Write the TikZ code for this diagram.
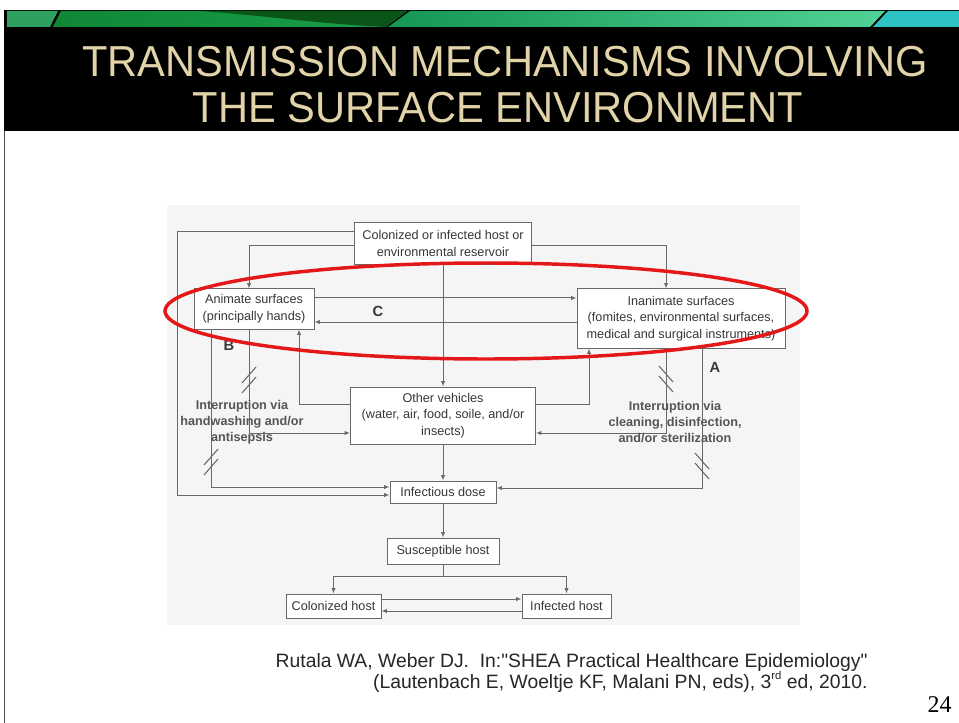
\documentclass[tikz,border=0pt]{standalone}
\usepackage{fontspec}
\setmainfont{Liberation Sans}
\newfontfamily\titlefont[FakeStretch=0.96]{Liberation Sans}
\newfontfamily\citefont{Liberation Sans}
\newfontfamily\pagefont{Liberation Serif}
\usetikzlibrary{arrows.meta}

\definecolor{boxgray}{RGB}{105,105,105}
\definecolor{txtgray}{RGB}{55,55,55}
\definecolor{notegray}{RGB}{85,85,85}
\definecolor{bggray}{RGB}{245,245,245}
\definecolor{titlegold}{RGB}{226,212,168}
\definecolor{ringred}{RGB}{228,24,24}
\definecolor{stripa}{RGB}{46,160,95}
\definecolor{stripb}{RGB}{15,135,55}
\definecolor{stripbb}{RGB}{25,160,75}
\definecolor{stripdark}{RGB}{12,85,25}
\definecolor{stripc}{RGB}{20,150,85}
\definecolor{stripcc}{RGB}{80,210,150}
\definecolor{stripd}{RGB}{45,195,195}

\newcommand{\diagfont}{\fontsize{9.5}{12.5}\selectfont}
\newcommand{\ordsup}[1]{\raisebox{0.42em}{\fontsize{8.5}{9}\selectfont #1}}

\tikzset{every picture/.style={line width=0.75pt}}
\tikzset{
  box/.style={draw=boxgray, fill=white, inner sep=0pt, align=center, text=txtgray, font=\diagfont},
  link/.style={draw=boxgray, -{Latex[length=4pt,width=3.2pt]}},
  cut/.style={draw=boxgray, line width=0.8pt},
  letter/.style={text=txtgray, font=\bfseries\fontsize{11}{13}\selectfont},
  note/.style={text=notegray, align=center, font=\bfseries\fontsize{9.5}{12}\selectfont},
}

\begin{document}
\begin{tikzpicture}[x=0.75pt,y=0.75pt,yscale=-1]
\useasboundingbox (0,0) rectangle (959,723);

%Shape: Rectangle [slide and title band]
\fill[white] (0,0) rectangle (959,723);
\fill[black] (4,10) rectangle (959,131);
\draw[black!70, line width=0.9pt] (4.5,131) -- (4.5,723);
%Shape: Polygon [green strip]
\fill[stripa] (7,11) -- (58,11) -- (50,27) -- (7,27) -- cycle;
\shade[left color=stripb, right color=stripbb] (61,11) -- (407,11) -- (385,27) -- (53,27) -- cycle;
\fill[stripdark] (200,11) .. controls (260,15) and (320,24) .. (386,27) -- (407,11) -- cycle;
\shade[left color=stripc, right color=stripcc] (410,11) -- (885,11) -- (870,27) -- (388,27) -- cycle;
\fill[stripd] (888,11) -- (959,11) -- (959,27) -- (873,27) -- cycle;

% Text Node
\node[anchor=base, text=titlegold, font=\titlefont\fontsize{32.5}{36}\selectfont] (title1) at (505,77) {TRANSMISSION MECHANISMS INVOLVING};
% Text Node
\node[anchor=base, text=titlegold, font=\titlefont\fontsize{32.5}{36}\selectfont] (title2) at (498,123) {THE SURFACE ENVIRONMENT};

%Shape: Rectangle [scanned figure]
\fill[bggray] (167,205) rectangle (800,625);

%Shape: Rectangle
\node[box, minimum width=132.75pt, minimum height=31.5pt] (reservoir) at (443,243.5) {Colonized or infected host or\\environmental reservoir};
\node[box, minimum width=90pt, minimum height=30pt] (animate) at (254,309) {Animate surfaces\\(principally hands)};
\node[box, minimum width=156pt, minimum height=44.25pt] (inanimate) at (681,318.5) {Inanimate surfaces\\(fomites, environmental surfaces,\\medical and surgical instruments)};
\node[box, minimum width=138.75pt, minimum height=42.75pt] (vehicles) at (443,415.5) {Other vehicles\\(water, air, food, soile, and/or\\insects)};
\node[box, minimum width=79.5pt, minimum height=16.5pt] (dose) at (443,492) {Infectious dose};
\node[box, minimum width=84pt, minimum height=19.5pt] (suscept) at (443,551) {Susceptible host};
\node[box, minimum width=71.25pt, minimum height=18pt] (colonized) at (333.5,606) {Colonized host};
\node[box, minimum width=66.75pt, minimum height=18pt] (infected) at (566.5,606) {Infected host};

%Straight Lines [reservoir out]
\draw[link] (reservoir.west |- 0,232) -| (177,495) -- (dose.west |- 0,495);
\draw[link] (reservoir.west |- 0,246) -| (animate.north -| 249,0);
\draw[link] (reservoir.east |- 0,246) -| (inanimate.north -| 666,0);
\draw[link] (reservoir.south) -- (vehicles.north);
%Straight Lines [surfaces]
\draw[link] (animate.east |- 0,298) -- (inanimate.west |- 0,298);
\draw[link] (inanimate.west |- 0,322) -- (animate.east |- 0,322);
\draw[link] (animate.south -| 211,0) |- (dose.west |- 0,487);
\draw[link] (animate.south -| 249,0) |- (vehicles.west |- 0,433);
\draw[link] (vehicles.west |- 0,404) -| (animate.south -| 299,0);
\draw[link] (vehicles.east |- 0,404) -| (inanimate.south -| 589,0);
\draw[link] (inanimate.south -| 666,0) |- (vehicles.east |- 0,433);
\draw[link] (inanimate.south -| 702,0) |- (dose.east |- 0,488);
%Straight Lines [down to hosts]
\draw[link] (vehicles.south) -- (dose.north);
\draw[link] (dose.south) -- (suscept.north);
\draw[link] (suscept.south) -- (443,576) -| (colonized.north);
\draw[link] (443,576) -| (infected.north);
\draw[link] (colonized.east |- 0,599) -- (infected.west |- 0,599);
\draw[link] (infected.west |- 0,611) -- (colonized.east |- 0,611);

%Straight Lines [interruption marks]
\foreach \cx/\cy/\s in {249/380/1, 211/462/1, 666/379/-1, 702/466/-1}
  \foreach \dy in {-5,5}
    \draw[cut] (\cx-7,\cy+\dy+8*\s) -- (\cx+7,\cy+\dy-8*\s);

% Text Node
\node[letter] (labC) at (378,311) {C};
\node[letter] (labB) at (229,345) {B};
\node[letter] (labA) at (715,367) {A};
% Text Node
\node[note] (stopleft) at (242,422) {Interruption via\\handwashing and/or\\antisepsis};
\node[note] (stopright) at (675,422) {Interruption via\\cleaning, disinfection,\\and/or sterilization};

%Shape: Ellipse
\draw[ringred, line width=2.6pt] (486,311) ellipse [x radius=321, y radius=48];

% Text Node
\node[anchor=base east, inner sep=0pt, text=black!85, font=\citefont\fontsize{14.5}{17}\selectfont] (cite1) at (868,667) {Rutala WA, Weber DJ.\ \ In:"SHEA Practical Healthcare Epidemiology"};
\node[anchor=base east, inner sep=0pt, text=black!85, font=\citefont\fontsize{14.5}{17}\selectfont] (cite2) at (868,688) {(Lautenbach E, Woeltje KF, Malani PN, eds), 3\ordsup{rd} ed, 2010.};
% Text Node
\node[anchor=base east, inner sep=0pt, font=\pagefont\fontsize{18}{20}\selectfont] (pagenum) at (952,712) {24};

\end{tikzpicture}
\end{document}
